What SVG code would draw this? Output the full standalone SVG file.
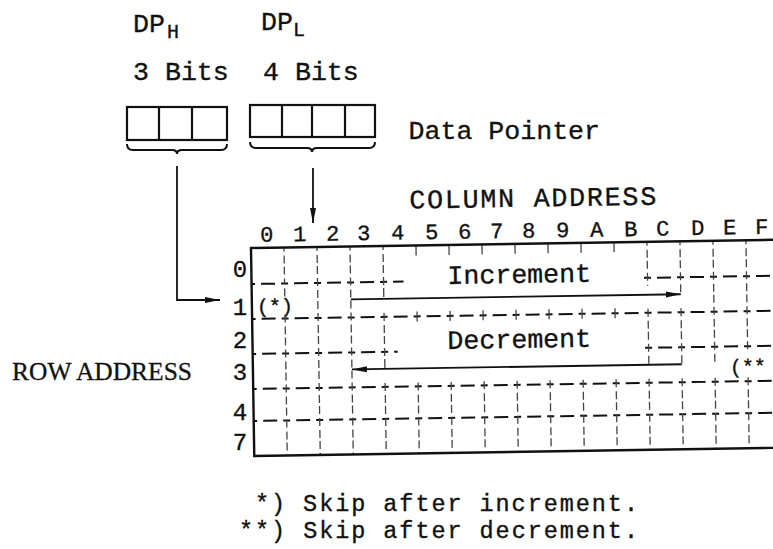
<svg xmlns="http://www.w3.org/2000/svg" width="773" height="549" viewBox="0 0 773 549">
<defs>
<style>
.tw{font-family:"Liberation Mono","Courier New",monospace;font-size:26.6px;fill:#111;stroke:#111;stroke-width:0.35}
.lg{font-family:"Liberation Mono","Courier New",monospace;font-size:23.5px;fill:#111;stroke:#111;stroke-width:0.35}
.sub{font-family:"Liberation Mono","Courier New",monospace;font-size:20px;fill:#111;stroke:#111;stroke-width:0.35}
.lbl{font-family:"Liberation Mono","Courier New",monospace;font-size:22px;fill:#111;stroke:#111;stroke-width:0.35;text-anchor:middle}
.rl{font-family:"Liberation Mono","Courier New",monospace;font-size:24px;fill:#111;stroke:#111;stroke-width:0.35;text-anchor:middle}
.ser{font-family:"Liberation Serif","Times New Roman",serif;font-size:25px;fill:#111;stroke:#111;stroke-width:0.3}
.box{fill:none;stroke:#111;stroke-width:2.2}
.brace{fill:none;stroke:#111;stroke-width:2}
.border{fill:none;stroke:#111;stroke-width:2.4}
.hd{fill:none;stroke:#111;stroke-width:2;stroke-dasharray:7 6 14 6;stroke-dashoffset:3.5}
.hr{fill:none;stroke:#111;stroke-width:2;stroke-dasharray:7 6 14 6}
.vd0{fill:none;stroke:#444;stroke-width:1.3;stroke-dasharray:8 4 8 3 8 4;stroke-dashoffset:4}
.vd{fill:none;stroke:#444;stroke-width:1.3;stroke-dasharray:8 4 8 3 8 4}
.vt{fill:none;stroke:#444;stroke-width:1.3}
.arr{fill:none;stroke:#111;stroke-width:1.8;marker-end:url(#ah)}
</style>
<marker id="ah" markerUnits="userSpaceOnUse" markerWidth="16" markerHeight="8" refX="15" refY="4" orient="auto">
<path d="M0,1 L15,4 L0,7 z" fill="#111"/>
</marker>
</defs>
<rect width="773" height="549" fill="#fff"/>

<g id="dp-h">
<text class="tw" x="133" y="32">DP</text>
<text class="sub" x="167" y="38">H</text>
<text class="tw" x="133" y="80">3 Bits</text>
<rect class="box" x="127" y="107" width="100" height="33"/>
<line class="box" x1="159" y1="107" x2="159" y2="140"/>
<line class="box" x1="192" y1="107" x2="192" y2="140"/>
<path class="brace" d="M127,144 Q127,150 133,150 L172,150 Q177,150 177,154 Q177,150 182,150 L221,150 Q227,150 227,144"/>
</g>

<g id="dp-l">
<text class="tw" x="261" y="30">DP</text>
<text class="sub" x="293" y="36">L</text>
<text class="tw" x="263" y="80">4 Bits</text>
<rect class="box" x="250" y="105" width="125" height="32"/>
<line class="box" x1="282" y1="105" x2="282" y2="137"/>
<line class="box" x1="312" y1="105" x2="312" y2="137"/>
<line class="box" x1="345" y1="105" x2="345" y2="137"/>
<path class="brace" d="M250,142 Q250,148 256,148 L307,148 Q312,148 312,152 Q312,148 317,148 L369,148 Q375,148 375,142"/>
</g>

<g id="data-pointer-label">
<text class="tw" x="408.5" y="139">Data Pointer</text>
</g>

<g id="row-address">
<text class="ser" x="12" y="380" textLength="180" lengthAdjust="spacingAndGlyphs">ROW ADDRESS</text>
<text class="rl" x="240" y="277">0</text>
<text class="rl" x="240" y="315">1</text>
<text class="rl" x="240" y="348">2</text>
<text class="rl" x="240" y="380">3</text>
<text class="rl" x="240" y="420">4</text>
<text class="rl" x="240" y="450">7</text>
</g>

<g id="grid" transform="rotate(-0.9 251 248)">
<text class="tw" x="410" y="211" textLength="247" lengthAdjust="spacing">COLUMN ADDRESS</text>
<g id="column-labels">
<text class="lbl" x="267" y="242">0</text>
<text class="lbl" x="300" y="242">1</text>
<text class="lbl" x="333" y="242">2</text>
<text class="lbl" x="364" y="242">3</text>
<text class="lbl" x="398" y="242">4</text>
<text class="lbl" x="432" y="242">5</text>
<text class="lbl" x="465" y="242">6</text>
<text class="lbl" x="497" y="242">7</text>
<text class="lbl" x="529" y="242">8</text>
<text class="lbl" x="563" y="242">9</text>
<text class="lbl" x="597" y="242">A</text>
<text class="lbl" x="631" y="242">B</text>
<text class="lbl" x="663" y="242">C</text>
<text class="lbl" x="698" y="242">D</text>
<text class="lbl" x="730" y="242">E</text>
<text class="lbl" x="762" y="242">F</text>
</g>

<g id="grid-lines">
<line class="hd" x1="251" y1="284" x2="403" y2="284"/>
<line class="hr" x1="643.5" y1="284" x2="776" y2="284"/>
<line class="hd" x1="251" y1="319" x2="776" y2="319"/>
<line class="hd" x1="251" y1="354" x2="396" y2="354"/>
<line class="hr" x1="643.5" y1="354" x2="776" y2="354"/>
<line class="hd" x1="251" y1="389" x2="776" y2="389"/>
<line class="hd" x1="251" y1="421" x2="776" y2="421"/>

<line class="vd0" x1="284" y1="248" x2="284" y2="284"/>
<line class="vt" x1="284" y1="289" x2="284" y2="297"/>
<line class="vd" x1="284" y1="315" x2="284" y2="456"/>
<line class="vd0" x1="317" y1="248" x2="317" y2="456"/>
<line class="vd0" x1="350" y1="248" x2="350" y2="456"/>
<line class="vd0" x1="383" y1="248" x2="383" y2="288"/>
<line class="vt" x1="383" y1="290" x2="383" y2="299"/>
<line class="vd" x1="383" y1="315" x2="383" y2="358"/>
<line class="vt" x1="383" y1="361" x2="383" y2="370"/>
<line class="vd" x1="383" y1="385" x2="383" y2="456"/>

<line class="vt" x1="416" y1="248" x2="416" y2="258"/>
<line class="vt" x1="416" y1="314" x2="416" y2="324"/>
<line class="vd" x1="416" y1="385" x2="416" y2="456"/>
<line class="vt" x1="449" y1="248" x2="449" y2="258"/>
<line class="vt" x1="449" y1="314" x2="449" y2="324"/>
<line class="vd" x1="449" y1="385" x2="449" y2="456"/>
<line class="vt" x1="482" y1="248" x2="482" y2="258"/>
<line class="vt" x1="482" y1="314" x2="482" y2="324"/>
<line class="vd" x1="482" y1="385" x2="482" y2="456"/>
<line class="vt" x1="515" y1="248" x2="515" y2="258"/>
<line class="vt" x1="515" y1="314" x2="515" y2="324"/>
<line class="vd" x1="515" y1="385" x2="515" y2="456"/>
<line class="vt" x1="548" y1="248" x2="548" y2="258"/>
<line class="vt" x1="548" y1="314" x2="548" y2="324"/>
<line class="vd" x1="548" y1="385" x2="548" y2="456"/>
<line class="vt" x1="581" y1="248" x2="581" y2="258"/>
<line class="vt" x1="581" y1="314" x2="581" y2="324"/>
<line class="vd" x1="581" y1="385" x2="581" y2="456"/>
<line class="vt" x1="614" y1="248" x2="614" y2="258"/>
<line class="vt" x1="614" y1="314" x2="614" y2="324"/>
<line class="vd" x1="614" y1="385" x2="614" y2="456"/>

<line class="vd0" x1="647" y1="248" x2="647" y2="292"/>
<line class="vd" x1="647" y1="315" x2="647" y2="371"/>
<line class="vd" x1="647" y1="385" x2="647" y2="456"/>
<line class="vd0" x1="680" y1="248" x2="680" y2="301"/>
<line class="vd" x1="680" y1="315" x2="680" y2="371"/>
<line class="vd" x1="680" y1="385" x2="680" y2="456"/>
<line class="vd0" x1="713" y1="248" x2="713" y2="371"/>
<line class="vd" x1="713" y1="385" x2="713" y2="456"/>
<line class="vd0" x1="746" y1="248" x2="746" y2="360"/>
<line class="vd" x1="746" y1="385" x2="746" y2="456"/>

<line class="border" x1="250" y1="248" x2="776" y2="248"/>
<line class="border" x1="250" y1="456" x2="776" y2="456"/>
<line class="border" x1="251" y1="247" x2="251" y2="457"/>
</g>

<g id="increment">
<text class="tw" x="447" y="287">Increment</text>
<line class="arr" x1="350" y1="301" x2="680" y2="301"/>
</g>
<g id="decrement">
<text class="tw" x="446" y="352">Decrement</text>
<line class="arr" x1="680" y1="371" x2="350" y2="371"/>
</g>
<text class="sub" x="256" y="313">(*)</text>
<text class="sub" x="728" y="381">(**</text>
</g>

<g id="connectors">
<path class="arr" d="M177,166 V300 H220"/>
<line class="arr" x1="313" y1="168" x2="313" y2="223"/>
</g>

<g id="legend">
<text class="lg" x="255" y="511" textLength="383" lengthAdjust="spacing">*) Skip after increment.</text>
<text class="lg" x="239" y="538" textLength="399" lengthAdjust="spacing">**) Skip after decrement.</text>
</g>
</svg>
